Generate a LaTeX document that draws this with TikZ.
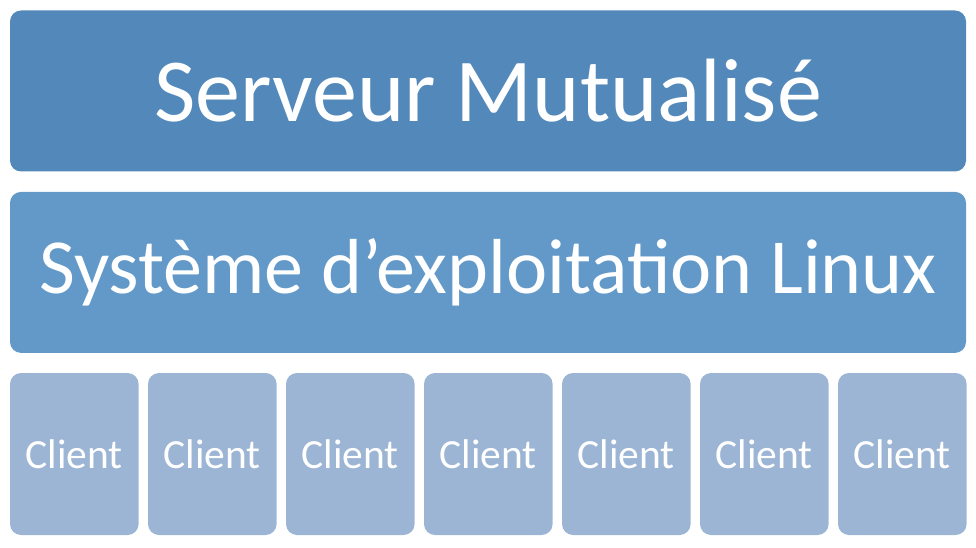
\documentclass[tikz,border=0pt]{standalone}
\usepackage{fontspec}
\setmainfont{Carlito}
\usetikzlibrary{positioning}

\definecolor{serveurblue}{HTML}{5389BA}
\definecolor{osblue}{HTML}{6299C8}
\definecolor{clientblue}{HTML}{9CB5D5}

\begin{document}
\begin{tikzpicture}[x=1pt,y=1pt,node distance=9pt]
  \tikzstyle{every node}=[rounded corners=11pt,draw=none,text=white,inner sep=0pt]
  \tikzstyle{layer}=[minimum width=956pt,minimum height=161pt]
  \tikzstyle{client}=[fill=clientblue,minimum width=128.6pt,minimum height=162pt,font=\fontsize{41.5}{41.5}\selectfont]
  \useasboundingbox (0,0) rectangle (976,547);

  \node[layer,fill=serveurblue,font=\fontsize{90}{90}\selectfont] (serveur) at (488,456) {Serveur Mutualisé};
  \node[layer,fill=osblue,font=\fontsize{78}{78}\selectfont] (os) [below=20pt of serveur] {Système d’exploitation Linux};

  \node[client] (c1) at (74.3,93) {Client};
  \foreach \i [remember=\i as \j (initially 1)] in {2,...,7}
    \node[client] (c\i) [right=of c\j] {Client};
\end{tikzpicture}
\end{document}
